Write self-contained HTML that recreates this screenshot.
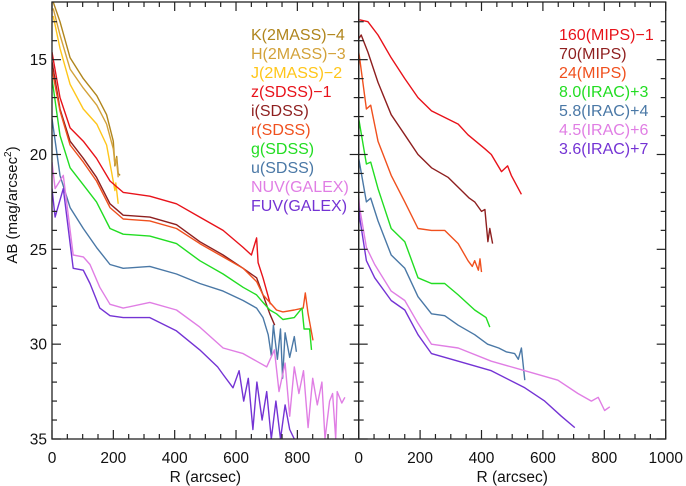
<!DOCTYPE html>
<html><head><meta charset="utf-8"><style>
body{margin:0;background:#fff}
svg{display:block;font-family:"Liberation Sans","DejaVu Sans",sans-serif}
</style></head><body>
<svg id="chart" width="686" height="486" viewBox="0 0 686 486" xmlns="http://www.w3.org/2000/svg"></svg>
<script>
// Left panel data [R arcsec, AB mag]
const K2 = [[4,11.96],[26,13.0],[59,14.9],[102,16.0],[146,16.9],[178,17.9],[200,19.3],[205,20.6],[211,20.1],[216,21.0],[222,21.1]];
const H2 = [[4,12.3],[26,13.7],[59,15.5],[102,16.5],[146,17.4],[178,18.4],[200,19.7],[205,20.5],[210,20.2],[216,21.2]];
const J2 = [[4,12.7],[26,14.4],[59,16.3],[102,17.6],[146,18.4],[178,19.5],[194,20.9],[205,21.9],[208,21.5],[216,22.6]];
const zS = [[0,14.6],[26,17.0],[59,18.6],[102,19.3],[145,20.2],[189,21.4],[232,22.0],[319,22.2],[406,22.6],[482,23.3],[558,24.0],[623,24.9],[650,25.3],[667,24.4],[672,25.7],[688,26.5],[700,27.2],[712,27.9]];
const iS = [[0,15.1],[26,17.6],[59,19.3],[102,20.2],[145,21.2],[189,22.6],[232,23.2],[319,23.3],[406,23.7],[482,24.6],[558,25.3],[623,26.0],[667,26.5],[688,27.4],[710,28.4],[726,29.0]];
const rS = [[0,15.5],[26,17.7],[59,19.5],[102,20.4],[145,21.4],[189,22.8],[232,23.4],[319,23.5],[406,23.9],[482,24.7],[558,25.4],[623,26.0],[667,26.7],[688,27.4],[710,27.8],[732,28.2],[753,28.3],[790,28.2],[819,28.1],[826,27.3],[835,28.4],[851,29.8]];
const gS = [[0,16.0],[26,19.0],[59,20.7],[102,21.6],[145,22.5],[189,23.9],[232,24.2],[319,24.3],[406,24.7],[482,25.6],[558,26.3],[623,27.0],[667,27.4],[688,27.8],[710,28.2],[732,28.4],[753,28.7],[790,28.6],[815,28.1],[822,29.2],[840,29.2],[846,30.3]];
const uS = [[0,18.1],[26,21.1],[59,22.8],[102,23.9],[145,24.9],[189,25.8],[232,26.0],[319,25.9],[406,26.3],[482,26.8],[558,27.2],[623,27.7],[667,28.1],[688,28.6],[705,29.5],[715,30.6],[722,29.0],[735,30.8],[745,29.2],[752,31.8],[760,29.4],[775,30.7],[790,29.6],[797,30.4]];
const nuvS = [[0,20.4],[10,21.8],[37,21.1],[69,25.3],[102,25.4],[124,25.8],[156,27.0],[189,27.9],[232,28.1],[319,27.8],[406,28.2],[482,29.1],[558,30.2],[623,30.5],[667,30.9],[700,31.2],[725,30.3],[740,32.5],[760,31.0],[775,33.8],[790,31.2],[805,32.6],[820,31.4],[835,34.4],[850,31.8],[865,33.2],[880,32.0],[890,35.0],[905,33.0],[915,32.6],[925,35.0],[930,32.5],[945,33.1],[955,32.8]];
const fuvS = [[0,21.8],[10,23.3],[37,21.8],[69,26.0],[102,26.1],[124,26.8],[156,28.1],[189,28.5],[232,28.6],[319,28.6],[406,29.3],[482,30.3],[540,31.2],[558,31.6],[590,32.3],[610,31.4],[625,33.0],[640,31.8],[655,34.5],[668,32.0],[685,34.0],[700,32.5],[715,35.0],[730,33.0],[745,35.0],[760,33.2],[775,34.5],[790,35.0]];
// Right panel data
const m160 = [[3,12.9],[30,13.0],[63,13.7],[106,14.9],[150,16.0],[193,17.0],[237,17.7],[324,18.4],[356,18.96],[411,19.7],[432,20.0],[465,20.9],[485,20.6],[497,21.1],[530,22.1]];
const m70 = [[0,13.9],[8,13.7],[30,14.6],[63,16.2],[106,17.9],[150,18.96],[193,20.0],[237,20.7],[291,21.2],[335,21.9],[360,22.3],[378,22.5],[400,23.0],[411,22.9],[421,24.6],[427,23.9],[436,24.7]];
const m24 = [[0,14.6],[3,14.9],[25,17.6],[39,17.4],[63,19.3],[106,21.1],[150,22.5],[193,23.9],[237,24.0],[280,24.0],[324,24.7],[356,25.6],[370,25.9],[378,25.6],[390,26.1],[395,25.5],[400,26.2]];
const i80 = [[0,18.1],[25,20.5],[39,20.4],[63,21.8],[106,23.9],[150,24.6],[193,26.5],[237,26.8],[280,26.8],[324,27.4],[378,28.2],[415,28.6],[427,29.1]];
const i58 = [[0,20.2],[25,22.5],[39,22.3],[63,23.5],[106,25.3],[150,26.0],[193,27.5],[237,28.4],[280,28.5],[324,29.0],[378,29.5],[420,30.0],[456,30.2],[480,30.4],[508,30.5],[520,30.8],[530,30.2],[541,31.9]];
const i45 = [[0,22.2],[3,22.8],[25,24.9],[52,25.8],[106,27.2],[150,27.7],[193,28.9],[237,30.0],[324,30.2],[432,30.9],[541,31.4],[649,31.9],[714,32.6],[758,33.0],[780,32.8],[801,33.5],[818,33.3]];
const i36 = [[0,22.6],[3,23.3],[25,25.6],[52,26.5],[106,27.7],[150,28.2],[193,29.5],[237,30.5],[324,30.9],[432,31.4],[541,32.3],[606,33.0],[660,33.8],[704,34.4]];
const leftLabels = ["K(2MASS)−4","H(2MASS)−3","J(2MASS)−2","z(SDSS)−1","i(SDSS)","r(SDSS)","g(SDSS)","u(SDSS)","NUV(GALEX)","FUV(GALEX)"];
const rightLabels = ["160(MIPS)−1","70(MIPS)","24(MIPS)","8.0(IRAC)+3","5.8(IRAC)+4","4.5(IRAC)+6","3.6(IRAC)+7"];
const xTicks = [0,200,400,600,800,1000];
const yTicks = [15,20,25,30,35];

const leftSeries = [K2,H2,J2,zS,iS,rS,gS,uS,nuvS,fuvS];
const leftColors = ["#b0851c","#d3a23a","#ffc61a","#e8121a","#8e1f1f","#f0501e","#22dd22","#4a78a6","#e07ee4","#7433d4"];
const rightSeries = [m160,m70,m24,i80,i58,i45,i36];
const rightColors = ["#e8121a","#8e1f1f","#f0501e","#22dd22","#4a78a6","#e07ee4","#7433d4"];

const NS="http://www.w3.org/2000/svg";
const svg=document.getElementById('chart');
const top0=2, bot=439, xL=52, xM=358.7, xR=665.7;
const yMin=11.96, yMax=35;
function Y(m){return top0+(m-yMin)/(yMax-yMin)*(bot-top0);}
function XL(r){return xL+r*(xM-xL)/1000;}
function XR(r){return xM+r*(xR-xM)/1000;}
function el(t,a){const e=document.createElementNS(NS,t);for(const k in a)e.setAttribute(k,a[k]);svg.appendChild(e);return e;}

const clip=el('clipPath',{id:'cl'});
const cr=document.createElementNS(NS,'rect');cr.setAttribute('x',xL);cr.setAttribute('y',top0);cr.setAttribute('width',xM-xL);cr.setAttribute('height',bot-top0);clip.appendChild(cr);
const clip2=el('clipPath',{id:'cr'});
const cr2=document.createElementNS(NS,'rect');cr2.setAttribute('x',xM);cr2.setAttribute('y',top0);cr2.setAttribute('width',xR-xM);cr2.setAttribute('height',bot-top0);clip2.appendChild(cr2);

function drawSeries(arr,X,color,name,cid){
  const p=el('polyline',{points:arr.map(d=>X(d[0]).toFixed(1)+','+Y(d[1]).toFixed(1)).join(' '),fill:'none',stroke:color,'stroke-width':1.4,'stroke-linejoin':'round','clip-path':'url(#'+cid+')'});
  
  
}
leftSeries.forEach((s,i)=>drawSeries(s,XL,leftColors[i],'line-'+leftLabels[i].toLowerCase().replace(/[^a-z0-9]+/g,'-'),'cl'));
rightSeries.forEach((s,i)=>drawSeries(s,XR,rightColors[i],'line-'+rightLabels[i].toLowerCase().replace(/[^a-z0-9]+/g,'-'),'cr'));

function panel(x0,x1,X,pname){
  const r=el('rect',{x:x0,y:top0,width:x1-x0,height:bot-top0,fill:'none',stroke:'#222','stroke-width':1.3});
  
  
  for(let v=0;v<=1000;v+=50){
    const L=(v%200===0)?9:5;const x=X(v);
    el('line',{x1:x,y1:bot,x2:x,y2:bot-L,stroke:'#222','stroke-width':1.2});
    el('line',{x1:x,y1:top0,x2:x,y2:top0+L,stroke:'#222','stroke-width':1.2});
  }
  for(let m=13;m<=35;m++){
    const L=(m%5===0)?9:5;const y=Y(m);
    el('line',{x1:x0,y1:y,x2:x0+L,y2:y,stroke:'#222','stroke-width':1.2});
    el('line',{x1:x1,y1:y,x2:x1-L,y2:y,stroke:'#222','stroke-width':1.2});
  }
  xTicks.forEach(v=>{
    if(X===XL && v===1000) return;
    const t=el('text',{x:X(v),y:463,'font-size':15.5,'text-anchor':'middle',fill:'#111'});
    t.textContent=v;
    
    
  });
  const xt=el('text',{x:(x0+x1)/2,y:482,'font-size':15.5,'text-anchor':'middle',fill:'#111'});
  xt.textContent='R (arcsec)';
  
  
}
panel(xL,xM,XL,'left-panel');
panel(xM,xR,XR,'right-panel');
yTicks.forEach(v=>{
  const t=el('text',{x:47,y:Y(v)+5.5,'font-size':15.5,'text-anchor':'end',fill:'#111'});
  t.textContent=v;
  
  
});
const yt=el('text',{x:0,y:0,'font-size':15,'text-anchor':'middle',fill:'#111',transform:'translate(17,205) rotate(-90)'});
yt.innerHTML='AB (mag/arcsec<tspan dy="-6" font-size="10">2</tspan><tspan dy="6">)</tspan>';



leftLabels.forEach((s,i)=>{
  const t=el('text',{x:251,y:40+i*19,'font-size':16,fill:leftColors[i]});
  t.textContent=s;
  
  
});
rightLabels.forEach((s,i)=>{
  const t=el('text',{x:559,y:40+i*19,'font-size':16,fill:rightColors[i]});
  t.textContent=s;
  
  
});
</script>
</body></html>
